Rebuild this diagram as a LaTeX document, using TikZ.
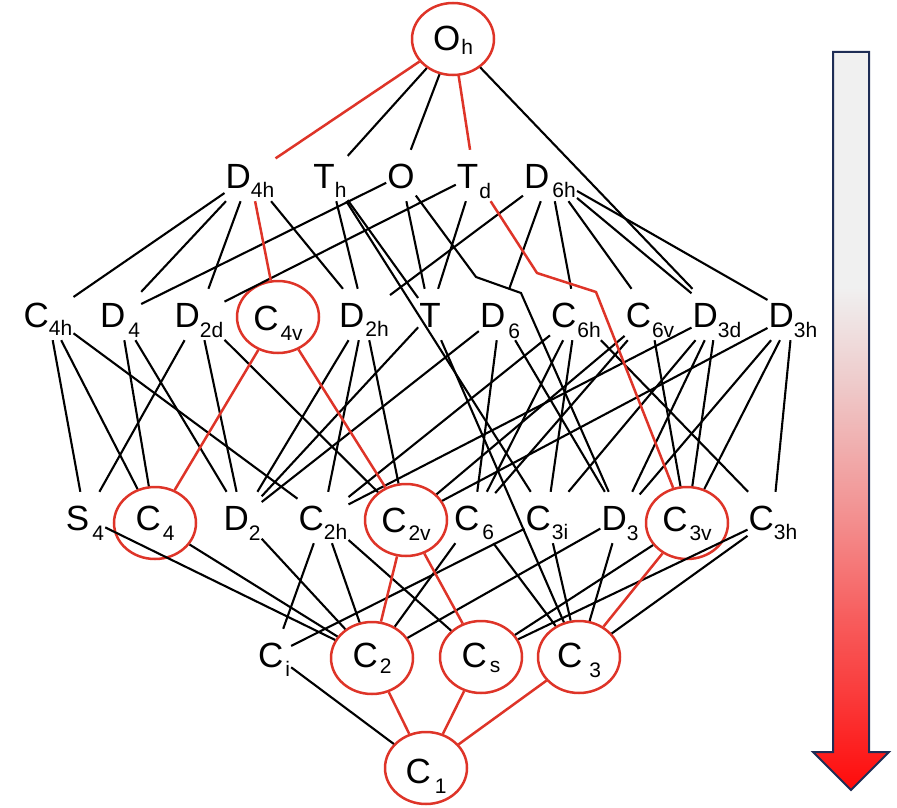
\documentclass[tikz,border=0pt]{standalone}
\usepackage{fontspec}
\setmainfont{Liberation Sans}
\usetikzlibrary{shapes.geometric}

\definecolor{ringred}{RGB}{222,52,40}
\definecolor{arrowedge}{RGB}{30,45,85}

% grey at the top, fading to red at the tip (path box = 25bp..75bp)
\pgfdeclareverticalshading{redfade}{100bp}{%
  rgb(0bp)=(1,0.04,0.04);
  rgb(25bp)=(1,0.04,0.04);
  rgb(31.4bp)=(0.98,0.23,0.23);
  rgb(36.5bp)=(0.97,0.36,0.36);
  rgb(43bp)=(0.953,0.55,0.55);
  rgb(52.8bp)=(0.933,0.80,0.80);
  rgb(59bp)=(0.94,0.94,0.94);
  rgb(100bp)=(0.94,0.94,0.94)}

% point-group symbol: letter, subscript, kern before subscript, drop of subscript
\newcommand{\pgsym}[4]{#1\kern#3\raisebox{-#4}{\fontsize{21}{21}\selectfont #2}}

\begin{document}
\begin{tikzpicture}[x=1pt, y=-1pt,
  grp/.style={font=\fontsize{35}{35}\selectfont, inner xsep=1pt, inner ysep=0pt,
              text height=38pt, text depth=13pt, anchor=base},
  ring/.style={ellipse, draw=ringred, line width=2.5pt, minimum width=82pt,
               minimum height=72pt, inner sep=0pt, font=\fontsize{35}{35}\selectfont,
               text height=#1, text depth=0pt, anchor=center},
  link/.style={line width=2.1pt, black},
  hot/.style={line width=2.5pt, ringred}]

\useasboundingbox (0,0) rectangle (897,808);

% ---- top
\node[ring=24pt] (Oh) at (453,39) {\pgsym{O}{h}{1pt}{4pt}};

% ---- second row
\node[grp] (D4h) at (250,188) {\pgsym{D}{4h}{0pt}{9pt}};
\node[grp] (Th)  at (330,188) {\pgsym{T}{h}{0pt}{9pt}};
\node[grp] (O)   at (401,188) {O};
\node[grp] (Td)  at (474,188) {\pgsym{T}{d}{1pt}{10pt}};
\node[grp] (D6h) at (550,188) {\pgsym{D}{6h}{3pt}{9pt}};

% ---- third row
\node[grp] (C4h) at (48,327)  {\pgsym{C}{4h}{0pt}{8pt}};
\node[grp] (D4)  at (120,327) {\pgsym{D}{4}{3pt}{10pt}};
\node[grp] (D2d) at (199,327) {\pgsym{D}{2d}{0pt}{10pt}};
\node[ring=26pt] (C4v) at (278,317) {\pgsym{C}{4v}{2pt}{10pt}};
\node[grp] (D2h) at (364,327) {\pgsym{D}{2h}{1pt}{9pt}};
\node[grp] (T)   at (430,327) {T};
\node[grp] (D6)  at (500,327) {\pgsym{D}{6}{3pt}{11pt}};
\node[grp] (C6h) at (576,327) {\pgsym{C}{6h}{1pt}{10pt}};
\node[grp] (C6v) at (650,327) {\pgsym{C}{6v}{1pt}{10pt}};
\node[grp] (D3d) at (717,327) {\pgsym{D}{3d}{0pt}{10pt}};
\node[grp] (D3h) at (793,327) {\pgsym{D}{3h}{0pt}{10pt}};

% ---- fourth row
\node[grp] (S4)  at (85,530)  {\pgsym{S}{4}{3pt}{10pt}};
\node[ring=14pt] (C4) at (155,523) {\pgsym{C}{4}{2pt}{10pt}};
\node[grp] (D2)  at (242,530) {\pgsym{D}{2}{0pt}{10pt}};
\node[grp] (C2h) at (323,530) {\pgsym{C}{2h}{0pt}{9pt}};
\node[ring=24pt] (C2v) at (406,520) {\pgsym{C}{2v}{2pt}{8pt}};
\node[grp] (C6)  at (474,530) {\pgsym{C}{6}{3pt}{9pt}};
\node[grp] (C3i) at (547,530) {\pgsym{C}{3i}{1pt}{9pt}};
\node[grp] (D3)  at (620,530) {\pgsym{D}{3}{0pt}{10pt}};
\node[ring=16pt] (C3v) at (687,523) {\pgsym{C}{3v}{2pt}{9pt}};
\node[grp] (C3h) at (773,530) {\pgsym{C}{3h}{0pt}{9pt}};

% ---- fifth row
\node[grp] (Ci) at (274,667) {\pgsym{C}{i}{2pt}{9pt}};
\node[ring=18pt] (C2) at (372,658) {\pgsym{C}{2}{2pt}{6pt}};
\node[ring=20pt] (Cs) at (481,657) {\pgsym{C}{s}{3pt}{5pt}};
\node[ring=20pt] (C3) at (579,657) {\pgsym{C}{3}{7pt}{10pt}};

% ---- bottom
\node[ring=30pt] (C1) at (426,768) {\pgsym{C}{1}{4pt}{10pt}};

% bends of the two routed connectors
\coordinate (ka) at (476,277);
\coordinate (kb) at (521,293);
\coordinate (kc) at (537,273);
\coordinate (kd) at (596,292);

% ---- group-subgroup links
\foreach \a/\b in {Oh/Th, Oh/O, Oh/D3d,
  D4h/C4h, D4h/D4, D4h/D2d, D4h/D2h,
  Th/T, Th/D2h, Th/C3i,
  O/T, O/D4, Td/T, Td/D2d,
  D6h/D6, D6h/C6v, D6h/D3h, D6h/D3d, D6h/C6h, D6h/D2h,
  C4h/C4, C4h/S4, C4h/C2h,
  D4/C4, D4/D2,
  D2d/S4, D2d/D2, D2d/C2v,
  D2h/D2, D2h/C2v, D2h/C2h,
  T/D2, T/C3,
  D6/C6, D6/D3, D6/D2,
  C6h/C6, C6h/C3h, C6h/C3i, C6h/C2h,
  C6v/C6, C6v/C3v, C6v/C2v,
  D3d/D3, D3d/C3v, D3d/C3i, D3d/C2h,
  D3h/C3h, D3h/D3, D3h/C3v, D3h/C2v,
  S4/C2, C4/C2, D2/C2,
  C2h/C2, C2h/Cs, C2h/Ci,
  C6/C2, C6/C3,
  C3i/C3, C3i/Ci,
  D3/C3, D3/C2,
  C3v/Cs,
  C3h/C3, C3h/Cs,
  Ci/C1}
  \draw[link] (\a) -- (\b);
\draw[link] (O) -- (ka) -- (kb) -- (D3);

% ---- highlighted chain
\foreach \a/\b in {Oh/D4h, D4h/C4v, C4v/C4, C4v/C2v, C2v/C2, C2v/Cs,
  Oh/Td, C3v/C3, C2/C1, Cs/C1, C3/C1}
  \draw[hot] (\a) -- (\b);
\draw[hot, line join=round] (Td) -- (kc) -- (kd) -- (C3v);

% ---- direction arrow
\shadedraw[shading=redfade, draw=arrowedge, line width=2pt, line join=miter]
  (833,52) -- (869,52) -- (869,752) -- (889,752) -- (851,790)
  -- (813,752) -- (833,752) -- cycle;

\end{tikzpicture}
\end{document}
